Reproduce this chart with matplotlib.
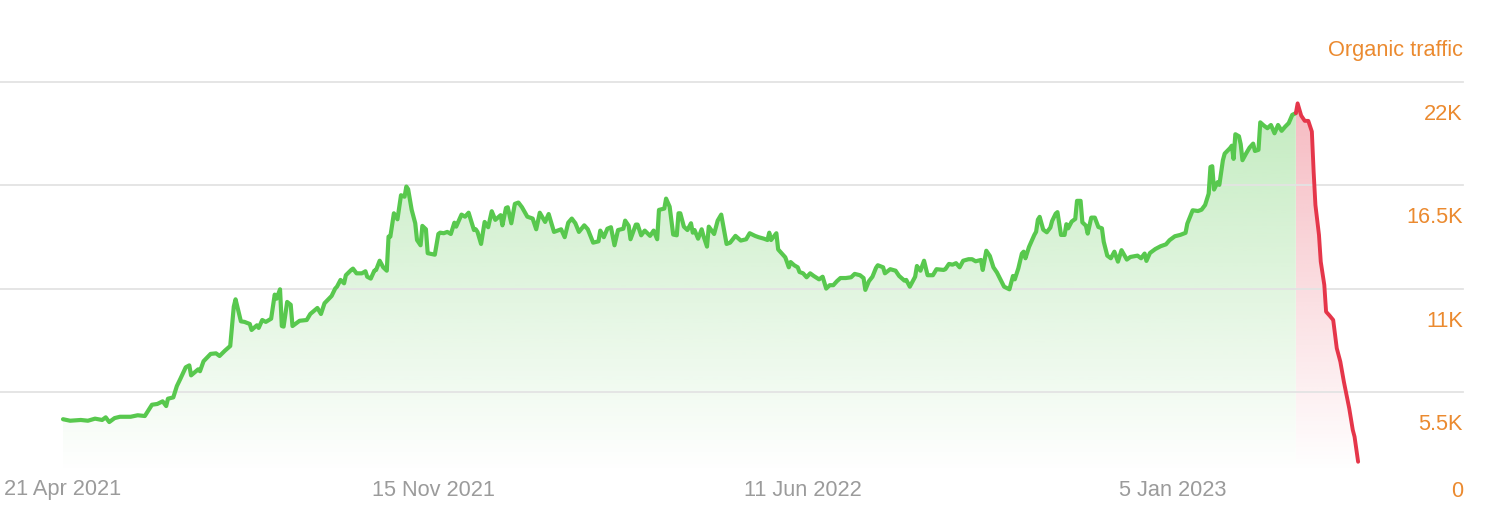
import datetime as dt
import numpy as np
import matplotlib
matplotlib.use("Agg")
import matplotlib.pyplot as plt
from matplotlib import transforms as mtransforms

# ---------------- data ----------------
START = dt.date(2021, 4, 21)

# day offsets from START
days = [
    0, 4, 10, 14, 18, 22, 24, 26, 29, 32, 38, 42, 46, 50, 53, 56, 58, 59, 62, 64,
    66, 69, 71, 72, 76, 77, 79, 83, 86, 88, 91, 94, 96, 97, 100, 102, 105, 106, 109, 110,
    112, 114, 117, 119, 120, 122, 123, 124, 126, 128, 129, 133, 137, 139, 143, 145, 147, 151, 153, 154,
    156, 158, 159, 162, 163, 165, 168, 170, 171, 173, 175, 176, 178, 180, 182, 183, 184, 186, 188, 190,
    192, 193, 194, 196, 198, 199, 201, 202, 204, 205, 209, 211, 212, 214, 216, 218, 220, 221, 224, 226,
    228, 231, 232, 233, 235, 237, 239, 241, 243, 246, 247, 249, 250, 252, 254, 256, 258, 261, 264, 266,
    268, 271, 273, 276, 280, 282, 284, 286, 288, 290, 293, 295, 298, 301, 302, 304, 306, 308, 310, 312,
    315, 316, 318, 319, 322, 323, 325, 327, 330, 332, 334, 335, 338, 339, 341, 343, 345, 346, 347, 349,
    351, 353, 354, 355, 357, 359, 360, 362, 363, 366, 368, 370, 373, 375, 378, 381, 384, 386, 389, 391,
    394, 396, 397, 398, 401, 402, 405, 406, 408, 409, 411, 413, 414, 416, 418, 420, 422, 425, 427, 429,
    431, 433, 435, 437, 440, 443, 445, 448, 450, 451, 453, 455, 457, 458, 461, 462, 465, 468, 470, 473,
    474, 476, 478, 479, 480, 482, 484, 486, 489, 491, 495, 496, 498, 500, 502, 504, 506, 509, 511, 513,
    516, 517, 519, 521, 523, 525, 529, 532, 534, 535, 537, 539, 540, 541, 543, 546, 547, 548, 549, 551,
    553, 555, 556, 558, 559, 561, 563, 564, 565, 567, 569, 570, 572, 573, 575, 576, 578, 580, 582, 584,
    585, 587, 589, 591, 593, 595, 598, 600, 604, 606, 608, 609, 611, 614, 617, 620, 622, 625, 628, 631,
    632, 635, 638, 640, 642, 644, 645, 646, 647, 649, 650, 652, 653, 656, 657, 658, 659, 661, 662, 663,
    665, 667, 669, 670, 672, 673, 675, 677, 679, 681, 683, 685, 687, 689, 691, 693,
    694, 696, 698, 700, 702, 703, 704, 706, 707, 709, 710, 712, 714, 716, 718, 720, 723, 725, 726, 728,
]

traffic = [
    4070, 3990, 4030, 3990, 4100, 4030, 4170, 3920, 4130, 4200, 4200, 4280, 4240, 4840, 4880, 5020, 4770, 5160, 5230, 5830,
    6220, 6830, 6930, 6400, 6720, 6620, 7150, 7540, 7570, 7430, 7710, 7960, 10050, 10440, 9270, 9240, 9130, 8810, 9060, 8920,
    9340, 9240, 9410, 10690, 10470, 10970, 9020, 8990, 10300, 10150, 9020, 9300, 9340, 9660, 9980, 9660, 10230, 10620, 11010, 11110,
    11470, 11290, 11720, 12000, 12070, 11820, 11820, 11930, 11640, 11540, 11960, 12000, 12490, 12140, 11960, 13770, 13770, 15010, 14690, 15970,
    15890, 16430, 16290, 15190, 14480, 13590, 13310, 14340, 14160, 12890, 12810, 13910, 13980, 13950, 14020, 13910, 14510, 14300, 14940, 14830,
    15040, 14120, 14160, 14020, 13380, 14550, 14270, 15120, 14660, 14910, 14370, 15290, 15330, 14480, 15510, 15580, 15330, 14830, 14730, 14160,
    15040, 14550, 14970, 14020, 14160, 13740, 14510, 14730, 14480, 14020, 14370, 14160, 13450, 13520, 14090, 13740, 14190, 14270, 13310, 14120,
    14190, 14620, 14340, 13630, 14410, 14410, 13840, 14090, 13810, 14090, 13630, 15190, 15260, 15790, 15360, 13880, 13840, 15010, 15010, 14300,
    14120, 14480, 13980, 14120, 13660, 14160, 13810, 13240, 14300, 13910, 14620, 14940, 13380, 13450, 13810, 13560, 13630, 13950, 13810, 13740,
    13660, 13590, 13980, 13590, 13950, 13090, 12780, 12670, 12140, 12420, 12250, 12140, 11890, 11820, 11610, 11820, 11680, 11500, 11640, 11010,
    11190, 11190, 11400, 11570, 11570, 11610, 11790, 11720, 11570, 10940, 11400, 11640, 12110, 12250, 12140, 11820, 12040, 11960, 11680, 11430,
    11470, 11110, 11470, 11640, 12210, 11960, 12490, 11720, 11720, 12040, 12000, 12040, 12320, 12280, 12360, 12140, 12490, 12570, 12570, 12460,
    12530, 12000, 13020, 12740, 12140, 11860, 11110, 10970, 11680, 11500, 12080, 12870, 12970, 12620, 13220, 13860, 14030, 14670, 14820, 14140,
    14000, 14250, 14600, 14990, 15070, 13860, 13860, 14430, 14210, 14570, 14710, 15670, 15670, 14530, 14350, 13930, 14780, 14780, 14280, 14210,
    13500, 12760, 12620, 12970, 12440, 13050, 12550, 12690, 12760, 12620, 12870, 12480, 12900, 13110, 13260, 13360, 13580, 13790, 13860, 13970,
    14460, 15170, 15130, 15200, 15450, 16050, 17470, 17510, 16270, 16660, 16520, 17830, 18180, 18470, 18600, 17900, 19210, 19100, 18680, 17830,
    18180, 18500, 18710, 18320, 18380, 19840, 19670, 19530, 19700, 19260, 19700, 19390, 19610, 19800, 20240, 20330,
    20850, 20200, 19920, 19920, 19350, 17220, 15450, 13860, 12440, 11200, 9780, 9570, 9340, 7840, 7130, 6060, 4650, 3500, 3140, 1810,
]

drop_start_day = 693  # green series ends / red (drop) series starts

x_tick_dates = [dt.date(2021, 4, 21), dt.date(2021, 11, 15), dt.date(2022, 6, 11), dt.date(2023, 1, 5)]
x_tick_labels = ["21 Apr 2021", "15 Nov 2021", "11 Jun 2022", "5 Jan 2023"]
y_ticks = [0, 5500, 11000, 16500, 22000]
y_tick_labels = ["0", "5.5K", "11K", "16.5K", "22K"]
axis_title = "Organic traffic"

# ---------------- style ----------------
plt.rcParams["font.family"] = ["Liberation Sans", "DejaVu Sans"]
GREEN = "#58c84e"
RED = "#e5364a"
ORANGE = "#eb8a2f"
GRAY = "#9b9b9b"
GRID = "#e3e3e3"
FS = 15.7

W, H = 1485, 505
fig = plt.figure(figsize=(W / 100, H / 100), dpi=100)
ax_top_px, ax_bot_px, ax_right_px = 81.7, 473.0, 1463.0
ax = fig.add_axes([0, 1 - ax_bot_px / H, ax_right_px / W, (ax_bot_px - ax_top_px) / H])

px_per_day = 1.779
day0_px = 63.0
xlim = (-day0_px / px_per_day, (ax_right_px - day0_px) / px_per_day)
px_per_unit = (392.3 - 81.7) / 3 / 5500
zero_px = 81.7 + 22000 * px_per_unit
ylim = ((zero_px - ax_bot_px) / px_per_unit, 22000)

d = np.array(days, dtype=float)
v = np.array(traffic, dtype=float)
k = days.index(drop_start_day)


def gradient_fill(x, y, color, alpha_top):
    poly = ax.fill_between(x, y, 0, facecolor="none", edgecolor="none", lw=0)
    path = poly.get_paths()[0]
    n = 256
    rgb = matplotlib.colors.to_rgb(color)
    img = np.zeros((n, 1, 4))
    img[..., 0], img[..., 1], img[..., 2] = rgb
    img[:, 0, 3] = np.linspace(alpha_top, 0.0, n)
    im = ax.imshow(img, extent=[x[0], x[-1], ylim[0], ylim[1]], aspect="auto",
                   origin="upper", zorder=1, interpolation="bilinear")
    im.set_clip_path(path, transform=ax.transData)


gradient_fill(d[:k + 1], v[:k + 1], GREEN, 0.38)
gradient_fill(d[k:], v[k:], RED, 0.36)

for yt in y_ticks[1:]:
    ax.axhline(yt, color=GRID, lw=1.3, zorder=1.5, clip_on=False)

ax.plot(d[:k + 1], v[:k + 1], color=GREEN, lw=3.0, zorder=3, solid_joinstyle="round", solid_capstyle="round")
ax.plot(d[k:], v[k:], color=RED, lw=2.8, zorder=3, solid_joinstyle="round", solid_capstyle="round")

ax.set_xlim(*xlim)
ax.set_ylim(*ylim)
ax.axis("off")

# y labels (right side, below their gridlines)
blend = mtransforms.blended_transform_factory(ax.transAxes, ax.transData)
for val, lab in zip(y_ticks, y_tick_labels):
    off = -38 if val > 0 else -1
    tr = mtransforms.offset_copy(blend, fig=fig, x=0, y=off, units="dots")
    ax.text(1.0, val, lab, transform=tr, ha="right", va="baseline",
            color=ORANGE, fontsize=FS, clip_on=False)

# x labels
xblend = mtransforms.blended_transform_factory(ax.transData, fig.transFigure)
for td, lab in zip(x_tick_dates, x_tick_labels):
    xd = (td - START).days
    ax.text(xd, 1 - 495.5 / H, lab, transform=xblend, ha="center", va="baseline",
            color=GRAY, fontsize=FS, clip_on=False)

fig.text(ax_right_px / W, 1 - 56 / H, axis_title, ha="right", va="baseline",
         color=ORANGE, fontsize=FS)

fig.savefig("out.png", dpi=100)
